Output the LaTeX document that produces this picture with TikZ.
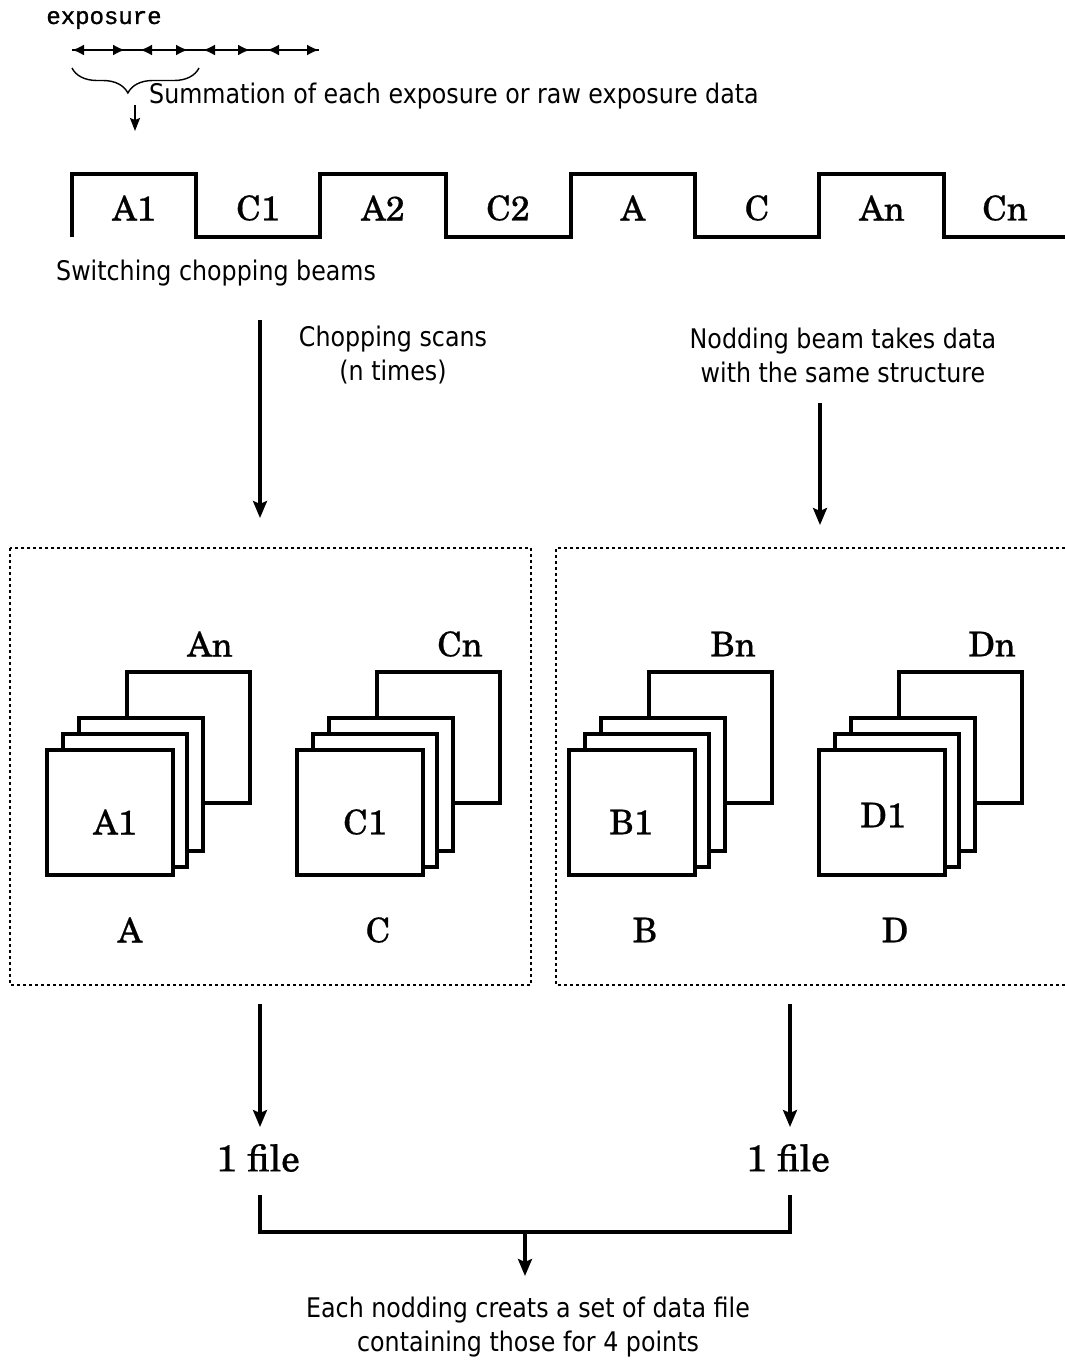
\documentclass[tikz,border=0pt]{standalone}
\usepackage{fontspec}
\setmainfont[FakeBold=0.5]{TeX Gyre Schola}
\newfontfamily\tahf[FakeStretch=0.88]{DejaVu Sans}
\newfontfamily\expf[FakeBold=1.2]{Liberation Mono}
\usetikzlibrary{arrows.meta,decorations.pathreplacing}

\tikzset{
  serlbl/.style={font=\fontsize{34}{40}\selectfont, inner sep=0pt},
  filelbl/.style={font=\fontsize{37}{42}\selectfont, inner sep=0pt},
  sanslbl/.style={font=\tahf\fontsize{27}{34}\selectfont, inner sep=0pt, align=center},
  bigarrow/.style={line width=3.2pt, -{Stealth[length=17pt,width=14pt,inset=3pt]}},
  smallarrow/.style={line width=1.8pt, -{Stealth[length=13pt,width=10pt,inset=2pt]}},
  bracketline/.style={line width=3.2pt},
  waveline/.style={line width=3.4pt, line join=miter},
  sheet/.style={draw, line width=3.2pt, fill=white},
  dotbox/.style={line width=1.8pt, dash pattern=on 3pt off 3pt},
  dimline/.style={line width=2.2pt},
  dimtips/.style={line width=2.2pt, {Latex[length=12pt,width=11pt]}-{Latex[length=12pt,width=11pt]}},
  sheetstack/.pic={
    \draw[sheet] (80,-78) rectangle (203,53);
    \draw[sheet] (32,-32) rectangle (156,101);
    \draw[sheet] (16,-16) rectangle (140,117);
    \draw[sheet] (0,0) rectangle (126,125);
  }
}

\begin{document}
\begin{tikzpicture}[x=1pt,y=-1pt]
\useasboundingbox (0,0) rectangle (1065,1366);
\fill[white] (0,0) rectangle (1065,1366);

% ---- exposure line ----
\node[font=\expf\fontsize{24}{28}\selectfont, inner sep=0pt] (exp) at (104,20) {exposure};
\coordinate (e0) at (72,50);
\coordinate (e1) at (125,50);
\coordinate (e2) at (140,50);
\coordinate (e3) at (188,50);
\coordinate (e4) at (203,50);
\coordinate (e5) at (250,50);
\coordinate (e6) at (267,50);
\coordinate (e7) at (319,50);
\draw[dimline] (e0) -- (e7);
\draw[dimtips] (e0) -- (e1);
\draw[dimtips] (e2) -- (e3);
\draw[dimtips] (e4) -- (e5);
\draw[dimtips] (e6) -- (e7);
\coordinate (brL) at (72,68);
\coordinate (brR) at (199,68);
\draw[line width=1.4pt, decorate, decoration={brace, amplitude=25pt, mirror, aspect=0.44}] (brL) -- (brR);
\coordinate (sumTop) at (135,105);
\coordinate (sumTip) at (135,131);
\draw[smallarrow] (sumTop) -- (sumTip);
\node[sanslbl, anchor=west] (sumtxt) at (149,96) {Summation of each exposure or raw exposure data};

% ---- square wave ----
\draw[waveline] (72,237) -- (72,174) -- (196,174) -- (196,237) -- (320,237) -- (320,174)
  -- (446,174) -- (446,237) -- (571,237) -- (571,174) -- (695,174) -- (695,237)
  -- (819,237) -- (819,174) -- (944,174) -- (944,237) -- (1065,237);
\node[serlbl] (wA1) at (134,208) {A1};
\node[serlbl] (wC1) at (258,208) {C1};
\node[serlbl] (wA2) at (383,208) {A2};
\node[serlbl] (wC2) at (508,208) {C2};
\node[serlbl] (wA)  at (633,208) {A};
\node[serlbl] (wC)  at (757,208) {C};
\node[serlbl] (wAn) at (882,208) {An};
\node[serlbl] (wCn) at (1005,208) {Cn};
\node[sanslbl, anchor=west] (switch) at (56,273) {Switching chopping beams};

% ---- middle arrows ----
\node[sanslbl] (chop) at (393,355) {Chopping scans\\(n times)};
\node[sanslbl] (nod) at (843,355) {Nodding beam takes data\\with the same structure};
\coordinate (chopS) at (260,320);
\coordinate (chopE) at (260,518);
\draw[bigarrow] (chopS) -- (chopE);
\coordinate (nodS) at (820,403);
\coordinate (nodE) at (820,525);
\draw[bigarrow] (nodS) -- (nodE);

% ---- dotted boxes ----
\draw[dotbox] (10,548) rectangle (531,985);
\draw[dotbox] (1065,548) -- (556,548) -- (556,985) -- (1065,985);

% ---- stacks ----
\pic at (47,750) {sheetstack};
\pic at (297,750) {sheetstack};
\pic at (569,750) {sheetstack};
\pic at (819,750) {sheetstack};

\node[serlbl] (sAn) at (210,644) {An};
\node[serlbl] (sA1) at (115,822) {A1};
\node[serlbl] (sA)  at (130,930) {A};
\node[serlbl] (sCn) at (460,644) {Cn};
\node[serlbl] (sC1) at (365,822) {C1};
\node[serlbl] (sC)  at (378,930) {C};
\node[serlbl] (sBn) at (733,644) {Bn};
\node[serlbl] (sB1) at (631,822) {B1};
\node[serlbl] (sB)  at (645,930) {B};
\node[serlbl] (sDn) at (992,644) {Dn};
\node[serlbl] (sD1) at (883,815) {D1};
\node[serlbl] (sD)  at (895,930) {D};

% ---- bottom ----
\node[filelbl] (f1) at (258,1158) {1 file};
\node[filelbl] (f2) at (788,1158) {1 file};
\coordinate (bL1) at (260,1004);
\coordinate (bL2) at (260,1127);
\coordinate (bR1) at (790,1004);
\coordinate (bR2) at (790,1127);
\draw[bigarrow] (bL1) -- (bL2);
\draw[bigarrow] (bR1) -- (bR2);
\coordinate (kL) at (260,1195);
\coordinate (kR) at (790,1195);
\coordinate (kM) at (525,1232);
\coordinate (kE) at (525,1276);
\draw[bracketline] (kL) -- (260,1232) -- (790,1232) -- (kR);
\draw[bigarrow] (kM) -- (kE);
\node[sanslbl] (final) at (528,1327) {Each nodding creats a set of data file\\containing those for 4 points};
\end{tikzpicture}
\end{document}
